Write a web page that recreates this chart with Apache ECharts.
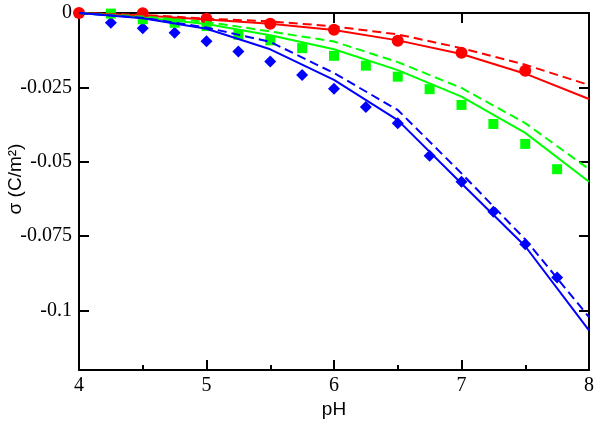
<!DOCTYPE html>
<html>
<head>
<meta charset="utf-8">
<script src="https://cdn.jsdelivr.net/npm/echarts@6/dist/echarts.min.js"></script>
<style>
html,body{margin:0;padding:0;background:#fff;}
#chart{width:600px;height:426px;}
</style>
</head>
<body>
<div id="chart"></div>
<script>
// model curves, evaluated on a 0.5 pH grid
var pHModel = [4, 4.5, 5, 5.5, 6, 6.5, 7, 7.5, 8];
var redSolid   = [0, -0.0008, -0.0022, -0.0036, -0.0057, -0.0092, -0.0138, -0.0204, -0.0289];
var redDashed  = [0, -0.0006, -0.0019, -0.0028, -0.0045, -0.0072, -0.0118, -0.0174, -0.0242];
var greenSolid = [0, -0.0015, -0.0037, -0.0075, -0.0122, -0.0192, -0.0281, -0.0403, -0.0567];
var greenDashed= [0, -0.0012, -0.0030, -0.0062, -0.0096, -0.0165, -0.0252, -0.0370, -0.0525];
var blueSolid  = [0, -0.0018, -0.0053, -0.0122, -0.0225, -0.0360, -0.0573, -0.0784, -0.1067];
var blueDashed = [0, -0.0016, -0.0049, -0.0097, -0.0202, -0.0326, -0.0539, -0.0761, -0.1022];

// measured points
var pHRed = [4, 4.5, 5, 5.5, 6, 6.5, 7, 7.5];
var redPts = [0, -0.0001, -0.0019, -0.0036, -0.0056, -0.0093, -0.0134, -0.0194];
var pHQuarter = [4.25, 4.5, 4.75, 5, 5.25, 5.5, 5.75, 6, 6.25, 6.5, 6.75, 7, 7.25, 7.5, 7.75];
var greenPts = [-0.0002, -0.0021, -0.0033, -0.0044, -0.0073, -0.0092, -0.0118, -0.0144, -0.0177, -0.0214, -0.0256, -0.0309, -0.0373, -0.0440, -0.0525];
var bluePts  = [-0.0033, -0.0051, -0.0066, -0.0095, -0.0129, -0.0163, -0.0208, -0.0255, -0.0316, -0.0371, -0.0480, -0.0567, -0.0668, -0.0777, -0.0889];

// y axis tick values (labels: 0, -0.025, -0.05, -0.075, -0.1)
var yTicks = [0, -0.025, -0.05, -0.075, -0.1];
var xTitle = 'pH';
var yTitle = 'σ (C/m²)';

function pairs(xs, ys){ return xs.map(function(x,i){ return [x, ys[i]]; }); }

var RED = '#ff0000', GREEN = '#00ff00', BLUE = '#0000ff';

function lineSeries(data, color, dashed){
  return {
    type: 'line', data: data, symbol: 'none', smooth: false,
    lineStyle: { color: color, width: 2, type: dashed ? [9, 5] : 'solid' }
  };
}
function scatterSeries(data, color, symbol, size){
  return {
    type: 'scatter', data: data, symbol: symbol, symbolSize: size,
    itemStyle: { color: color, opacity: 1 }, clip: false
  };
}

var option = {
  animation: false,
  grid: { left: 79, right: 11, top: 13, bottom: 56 },
  xAxis: [
    {
      type: 'value', min: 4, max: 8, interval: 1, position: 'bottom',
      axisLine: { show: true, onZero: false, lineStyle: { color: '#000', width: 2 } },
      axisTick: { show: true, inside: true, length: 10, lineStyle: { color: '#000', width: 2 } },
      minorTick: { show: true, splitNumber: 2, length: 5, lineStyle: { color: '#000', width: 2 } },
      axisLabel: { show: true, margin: 6, fontFamily: 'Liberation Serif', fontSize: 20, color: '#000' },
      splitLine: { show: false }
    },
    {
      type: 'value', min: 4, max: 8, interval: 1, position: 'top',
      axisLine: { show: true, onZero: false, lineStyle: { color: '#000', width: 2 } },
      axisTick: { show: true, inside: true, length: 10, lineStyle: { color: '#000', width: 2 } },
      axisLabel: { show: false },
      splitLine: { show: false }
    }
  ],
  yAxis: [
    {
      type: 'value', min: -0.12, max: 0, position: 'left',
      axisLine: { show: true, onZero: false, lineStyle: { color: '#000', width: 2 } },
      axisTick: { show: true, inside: true, length: 10, customValues: yTicks, lineStyle: { color: '#000', width: 2 } },
      axisLabel: { show: true, margin: 7, fontFamily: 'Liberation Serif', fontSize: 20, color: '#000', customValues: yTicks },
      splitLine: { show: false }
    },
    {
      type: 'value', min: -0.12, max: 0, position: 'right',
      axisLine: { show: true, onZero: false, lineStyle: { color: '#000', width: 2 } },
      axisTick: { show: true, inside: true, length: 10, customValues: yTicks, lineStyle: { color: '#000', width: 2 } },
      axisLabel: { show: false },
      splitLine: { show: false }
    }
  ],
  graphic: [
    { type: 'text', x: 334, y: 410, silent: true,
      style: { text: xTitle, fontFamily: 'Liberation Sans', fontSize: 19, fill: '#000', align: 'center', verticalAlign: 'middle' } },
    { type: 'text', x: 16, y: 179, rotation: Math.PI / 2, silent: true,
      style: { text: yTitle, fontFamily: 'Liberation Sans', fontSize: 19, fill: '#000', align: 'center', verticalAlign: 'middle' } }
  ],
  series: [
    lineSeries(pairs(pHModel, redDashed), RED, true),
    lineSeries(pairs(pHModel, redSolid), RED, false),
    lineSeries(pairs(pHModel, greenDashed), GREEN, true),
    lineSeries(pairs(pHModel, greenSolid), GREEN, false),
    lineSeries(pairs(pHModel, blueDashed), BLUE, true),
    lineSeries(pairs(pHModel, blueSolid), BLUE, false),
    scatterSeries(pairs(pHQuarter, bluePts), BLUE, 'diamond', 12),
    scatterSeries(pairs(pHQuarter, greenPts), GREEN, 'rect', 10),
    scatterSeries(pairs(pHRed, redPts), RED, 'circle', 12)
  ]
};

var chart = echarts.init(document.getElementById('chart'));
chart.setOption(option);
</script>
</body>
</html>
